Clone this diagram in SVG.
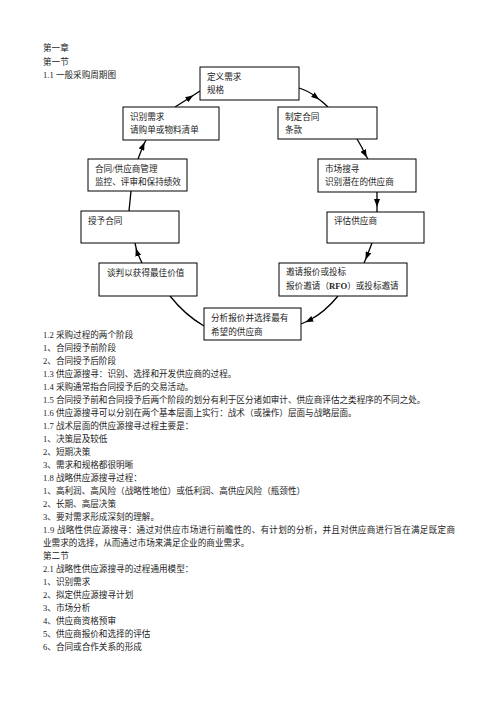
<svg xmlns="http://www.w3.org/2000/svg" width="496" height="702" viewBox="0 0 496 702">
<style>
text{font-family:"Liberation Serif","Noto Sans CJK SC",serif;font-size:8.6px;fill:#222}
.box{fill:#fff;stroke:#000;stroke-width:1}
.c{fill:none;stroke:#000;stroke-width:1.3}
</style>
<defs>
<marker id="ah" markerWidth="8" markerHeight="6" refX="4" refY="3" orient="auto" markerUnits="userSpaceOnUse">
<path d="M0,0 L8,3 L0,6 Z" fill="#000"/>
</marker>
</defs>
<rect width="496" height="702" fill="#fff"/>
<g id="heading">
<text x="43" y="51">第一章</text>
<text x="43" y="65">第一节</text>
<text x="43" y="78">1.1 一般采购周期图</text>
</g>
<g id="connectors">
<path class="c" d="M175,107 L190,97.5 L200,91" marker-mid="url(#ah)"/>
<path class="c" d="M299,88 Q309,91 316,97 Q323,102 328,107" marker-mid="url(#ah)"/>
<path class="c" d="M357,139 Q362,147 365,154 L368,159" marker-mid="url(#ah)"/>
<path class="c" d="M377,192 L377,203 L377,212" marker-mid="url(#ah)"/>
<path class="c" d="M372,243 L367,256 L364,263" marker-mid="url(#ah)"/>
<path class="c" d="M338,296 Q325,312 309,320.5 L301,324" marker-mid="url(#ah)"/>
<path class="c" d="M204,326 Q185,315 170,296"/>
<path class="c" d="M142,263 L137,252 L135,243" marker-mid="url(#ah)"/>
<path class="c" d="M129,211 L131,191"/>
<path class="c" d="M138,159 L143,146 L146,140" marker-mid="url(#ah)"/>
</g>
<g id="n1"><rect class="box" x="200" y="67" width="99" height="33"/><text x="207" y="80">定义需求</text><text x="207" y="93">规格</text></g>
<g id="n2"><rect class="box" x="123" y="107" width="96" height="33"/><text x="130" y="120">识别需求</text><text x="130" y="133">请购单或物料清单</text></g>
<g id="n3"><rect class="box" x="278" y="107" width="99" height="32"/><text x="285" y="120">制定合同</text><text x="285" y="133">条款</text></g>
<g id="n4"><rect class="box" x="318" y="159" width="98" height="33"/><text x="325" y="172">市场搜寻</text><text x="325" y="185">识别潜在的供应商</text></g>
<g id="n5"><rect class="box" x="88" y="159" width="99" height="32"/><text x="95" y="172">合同/供应商管理</text><text x="95" y="185">监控、评审和保持绩效</text></g>
<g id="n6"><rect class="box" x="81" y="211" width="98" height="32"/><text x="88" y="224">授予合同</text></g>
<g id="n7"><rect class="box" x="327" y="212" width="97" height="31"/><text x="334" y="224">评估供应商</text></g>
<g id="n8"><rect class="box" x="99" y="263" width="98" height="33"/><text x="107" y="276">谈判以获得最佳价值</text></g>
<g id="n9"><rect class="box" x="279" y="263" width="128" height="33"/><text x="286" y="275">邀请报价或投标</text><text x="286" y="289">报价邀请（<tspan font-weight="bold">RFO</tspan>）或投标邀请</text></g>
<g id="n10"><rect class="box" x="204" y="308" width="97" height="32"/><text x="211" y="321">分析报价并选择最有</text><text x="211" y="334.5">希望的供应商</text></g>
<g id="body">
<text x="43" y="338">1.2 采购过程的两个阶段</text>
<text x="43" y="351">1、合同授予前阶段</text>
<text x="43" y="364">2、合同授予后阶段</text>
<text x="43" y="377">1.3 供应源搜寻：识别、选择和开发供应商的过程。</text>
<text x="43" y="390">1.4 采购通常指合同授予后的交易活动。</text>
<text x="43" y="403">1.5 合同授予前和合同授予后两个阶段的划分有利于区分诸如审计、供应商评估之类程序的不同之处。</text>
<text x="43" y="416">1.6 供应源搜寻可以分别在两个基本层面上实行：战术（或操作）层面与战略层面。</text>
<text x="43" y="429">1.7 战术层面的供应源搜寻过程主要是：</text>
<text x="43" y="442">1、决策层及较低</text>
<text x="43" y="455">2、短期决策</text>
<text x="43" y="468">3、需求和规格都很明晰</text>
<text x="43" y="481">1.8 战略供应源搜寻过程：</text>
<text x="43" y="494">1、高利润、高风险（战略性地位）或低利润、高供应风险（瓶颈性）</text>
<text x="43" y="507">2、长期、高层决策</text>
<text x="43" y="520">3、要对需求形成深刻的理解。</text>
<text x="43" y="533" textLength="412" lengthAdjust="spacing">1.9  战略性供应源搜寻：通过对供应市场进行前瞻性的、有计划的分析，并且对供应商进行旨在满足既定商</text>
<text x="43" y="546">业需求的选择，从而通过市场来满足企业的商业需求。</text>
<text x="43" y="559">第二节</text>
<text x="43" y="572">2.1 战略性供应源搜寻的过程通用模型：</text>
<text x="43" y="585">1、识别需求</text>
<text x="43" y="598">2、拟定供应源搜寻计划</text>
<text x="43" y="611">3、市场分析</text>
<text x="43" y="624">4、供应商资格预审</text>
<text x="43" y="637">5、供应商报价和选择的评估</text>
<text x="43" y="650">6、合同或合作关系的形成</text>
</g>
</svg>
